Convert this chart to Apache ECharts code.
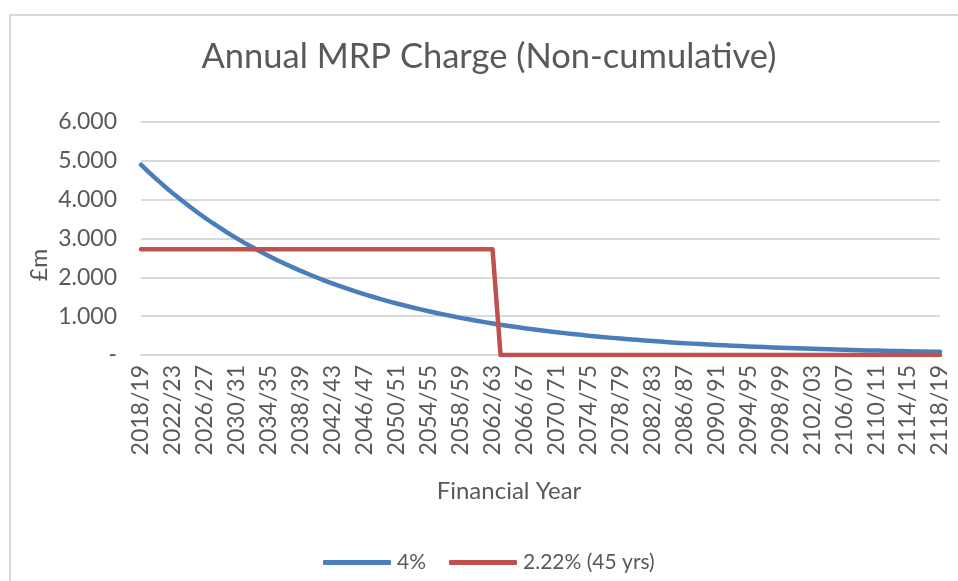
<!DOCTYPE html>
<html>
<head>
<meta charset="utf-8">
<script src="https://cdn.jsdelivr.net/npm/echarts@6/dist/echarts.min.js"></script>
<style>html,body{margin:0;padding:0;background:#fff}#c{width:958px;height:581px}</style>
</head>
<body>
<div id="c"></div>
<script>
// Categories: financial years 2018/19 .. 2118/19
const categories = [];
for (let y = 2018; y <= 2118; y++) {
  categories.push(y + '/' + String((y + 1) % 100).padStart(2, '0'));
}
const seriesNames = ['4%', '2.22% (45 yrs)'];
// 4% series (£m)
const series4pct = [
  4.900, 4.704, 4.516, 4.335, 4.162, 3.995, 3.835, 3.682, 3.535, 3.393,
  3.258, 3.127, 3.002, 2.882, 2.767, 2.656, 2.550, 2.448, 2.350, 2.256,
  2.166, 2.079, 1.996, 1.916, 1.839, 1.766, 1.695, 1.627, 1.562, 1.500,
  1.440, 1.382, 1.327, 1.274, 1.223, 1.174, 1.127, 1.082, 1.039, 0.997,
  0.957, 0.919, 0.882, 0.847, 0.813, 0.781, 0.749, 0.719, 0.691, 0.663,
  0.636, 0.611, 0.587, 0.563, 0.541, 0.519, 0.498, 0.478, 0.459, 0.441,
  0.423, 0.406, 0.390, 0.374, 0.359, 0.345, 0.331, 0.318, 0.305, 0.293,
  0.281, 0.270, 0.259, 0.249, 0.239, 0.229, 0.220, 0.211, 0.203, 0.195,
  0.187, 0.179, 0.172, 0.165, 0.159, 0.152, 0.146, 0.140, 0.135, 0.129,
  0.124, 0.119, 0.114, 0.110, 0.105, 0.101, 0.097, 0.093, 0.090, 0.086,
  0.083
];
// 2.22% (45 yrs) series (£m): flat for 45 years, then zero
const series222pct = [
  2.72, 2.72, 2.72, 2.72, 2.72, 2.72, 2.72, 2.72, 2.72, 2.72,
  2.72, 2.72, 2.72, 2.72, 2.72, 2.72, 2.72, 2.72, 2.72, 2.72,
  2.72, 2.72, 2.72, 2.72, 2.72, 2.72, 2.72, 2.72, 2.72, 2.72,
  2.72, 2.72, 2.72, 2.72, 2.72, 2.72, 2.72, 2.72, 2.72, 2.72,
  2.72, 2.72, 2.72, 2.72, 2.72, 0, 0, 0, 0, 0,
  0, 0, 0, 0, 0, 0, 0, 0, 0, 0,
  0, 0, 0, 0, 0, 0, 0, 0, 0, 0,
  0, 0, 0, 0, 0, 0, 0, 0, 0, 0,
  0, 0, 0, 0, 0, 0, 0, 0, 0, 0,
  0, 0, 0, 0, 0, 0, 0, 0, 0, 0,
  0
];
const yTicks = [0, 1, 2, 3, 4, 5, 6];

const FONT = 'Lato';
const GREY = '#595959';
const chart = echarts.init(document.getElementById('c'));
chart.setOption({
  animation: false,
  textStyle: { fontFamily: FONT },
  title: {
    text: 'Annual MRP Charge (Non-cumulative)',
    left: 489, top: 39, textAlign: 'center', padding: 0,
    textStyle: { fontFamily: FONT, fontSize: 34.5, fontWeight: 'normal', color: GREY }
  },
  graphic: [
    { type: 'rect', shape: { x: 10, y: 15, width: 960, height: 580 },
      style: { fill: 'none', stroke: '#d9d9d9', lineWidth: 2 }, silent: true, z: -1 },
    { type: 'text', x: 509, y: 491, style: { text: 'Financial Year', font: '24px ' + FONT, fill: GREY, align: 'center', verticalAlign: 'middle' } },
    { type: 'text', x: 40, y: 265, rotation: Math.PI / 2, style: { text: '£m', font: '23px ' + FONT, fill: GREY, align: 'center', verticalAlign: 'middle' } }
  ],
  legend: {
    left: 323, top: 552, padding: 0,
    itemWidth: 68, itemHeight: 5, itemGap: 23,
    icon: 'roundRect',
    data: seriesNames,
    textStyle: { fontFamily: FONT, fontSize: 21, color: GREY, padding: [0, 0, 0, 1] }
  },
  grid: { left: 141, right: 18, top: 122, bottom: 226, containLabel: false },
  xAxis: {
    type: 'category', data: categories, boundaryGap: false,
    axisLine: { lineStyle: { color: '#d9d9d9', width: 2 } },
    axisTick: { show: false },
    axisLabel: { interval: 3, rotate: 90, margin: 10, fontSize: 23, color: GREY, fontFamily: FONT }
  },
  yAxis: {
    type: 'value', min: yTicks[0], max: yTicks[yTicks.length - 1], interval: 1,
    axisLine: { show: false }, axisTick: { show: false },
    splitLine: { lineStyle: { color: '#d9d9d9', width: 2 } },
    axisLabel: {
      margin: 24, fontSize: 23, color: GREY, fontFamily: FONT,
      formatter: v => v === 0 ? '-' : v.toFixed(3)
    }
  },
  series: [
    { name: seriesNames[0], type: 'line', data: series4pct, showSymbol: false, clip: false,
      itemStyle: { color: '#4a7ebb' },
      lineStyle: { color: '#4a7ebb', width: 4.5, cap: 'round', join: 'round' }, z: 2 },
    { name: seriesNames[1], type: 'line', data: series222pct, showSymbol: false,
      itemStyle: { color: '#c0504d' },
      lineStyle: { color: '#c0504d', width: 4.5, cap: 'round', join: 'round' }, z: 3 }
  ]
});
</script>
</body>
</html>
